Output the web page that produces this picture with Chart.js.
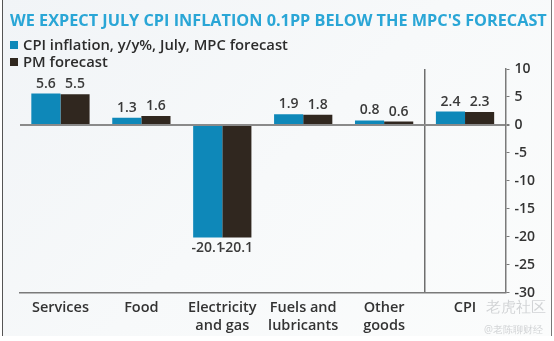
<!DOCTYPE html>
<html>
<head>
<meta charset="utf-8">
<script src="https://cdn.jsdelivr.net/npm/chart.js@4/dist/chart.umd.min.js"></script>
<style>
  html, body { margin: 0; padding: 0; }
  body { width: 554px; height: 341px; position: relative; overflow: hidden; background: #fff; font-family: "Open Sans", sans-serif; }
  #frame { position: absolute; left: 2px; top: 0; width: 548px; height: 336px; border-left: 1px solid #555; border-right: 1px solid #777;
           background: linear-gradient(135deg, #f1f4f7 0%, #f7f9fa 50%, #fbfcfc 100%); }
  #wrap { position: absolute; left: 0; top: 0; width: 554px; height: 341px; }
  #title { position: absolute; left: 10px; top: 9px; font-size: 16.25px; font-weight: 700; color: #2aa6d6; white-space: nowrap; }
  #legend { position: absolute; left: 10px; top: 36px; font-size: 14.8px; font-weight: 600; color: #2c2c2c; line-height: 17px; }
  #legend span.sw { display: inline-block; width: 8px; height: 8px; margin-right: 5px; vertical-align: 1px; }
  .wm { position: absolute; color: #d2d4d6; white-space: nowrap; }
</style>
</head>
<body>
<div id="frame"></div>
<div id="wrap"><canvas id="chart" width="554" height="341"></canvas></div>
<div id="title">WE EXPECT JULY CPI INFLATION 0.1PP BELOW THE MPC'S FORECAST</div>
<div id="legend"></div>
<div class="wm" style="left:486px;top:296px;font-size:15px;">老虎社区</div>
<div class="wm" style="left:484px;top:322px;font-size:10px;">@老陈聊财经</div>
<script>
// 데이터
const categories = [["Services"], ["Food"], ["Electricity", "and gas"], ["Fuels and", "lubricants"], ["Other", "goods"], ["CPI"]];
const mpcForecast = [5.6, 1.3, -20.1, 1.9, 0.8, 2.4];
const pmForecast = [5.5, 1.6, -20.1, 1.8, 0.6, 2.3];
const seriesNames = ["CPI inflation, y/y%, July, MPC forecast", "PM forecast"];
const seriesColors = ["#0e88b9", "#30271f"];

// 범례 (HTML)
document.getElementById("legend").innerHTML = seriesNames
  .map((name, i) => `<div><span class="sw" style="background:${seriesColors[i]}"></span>${name}</div>`)
  .join("");

// 막대 위 값 표시
const valueLabels = {
  id: "valueLabels",
  afterDatasetsDraw(chart) {
    const ctx = chart.ctx;
    ctx.save();
    ctx.font = "600 14px 'Open Sans', sans-serif";
    ctx.fillStyle = "#3a3a3a";
    ctx.textAlign = "center";
    chart.data.datasets.forEach((ds, i) => {
      chart.getDatasetMeta(i).data.forEach((bar, j) => {
        const v = ds.data[j];
        if (v >= 0) {
          ctx.textBaseline = "bottom";
          ctx.fillText(v.toFixed(1), bar.x, bar.y - 3);
        } else {
          ctx.textBaseline = "top";
          ctx.fillText(v.toFixed(1), bar.x, bar.y + 4);
        }
      });
    });
    ctx.restore();
  }
};

new Chart(document.getElementById("chart").getContext("2d"), {
  type: "bar",
  data: {
    labels: categories,
    datasets: seriesNames.map((name, i) => ({
      label: name,
      data: i === 0 ? mpcForecast : pmForecast,
      backgroundColor: seriesColors[i],
      barPercentage: 1,
      categoryPercentage: 0.72
    }))
  },
  options: {
    responsive: false,
    animation: false,
    layout: { padding: { top: 69, left: 20, right: 14, bottom: 0 } },
    plugins: {
      legend: { display: false },
      title: { display: false },
      tooltip: { enabled: false }
    },
    scales: {
      x: {
        grid: {
          offset: true,
          drawTicks: false,
          color: c => (c.index === 5 ? "#6e6e6e" : "rgba(0,0,0,0)"),
          lineWidth: 1.5
        },
        border: { display: true, color: "#7a7a7a", width: 1.5 },
        ticks: {
          padding: 7,
          color: "#333",
          font: { family: "'Open Sans', sans-serif", size: 14.5, weight: "600", lineHeight: 1.18 },
          maxRotation: 0,
          autoSkip: false
        }
      },
      y: {
        position: "right",
        min: -30,
        max: 10,
        ticks: {
          stepSize: 5,
          padding: 5,
          color: "#333",
          font: { family: "'Open Sans', sans-serif", size: 14, weight: "600" }
        },
        grid: {
          drawOnChartArea: true,
          tickLength: 4,
          color: c => (c.tick && c.tick.value === 0 ? "#8a8a8a" : "rgba(0,0,0,0)"),
          lineWidth: c => (c.tick && c.tick.value === 0 ? 2 : 1),
          tickColor: "#7a7a7a"
        },
        border: { display: true, color: "#7a7a7a", width: 1.5 }
      }
    }
  },
  plugins: [valueLabels]
});
</script>
</body>
</html>
